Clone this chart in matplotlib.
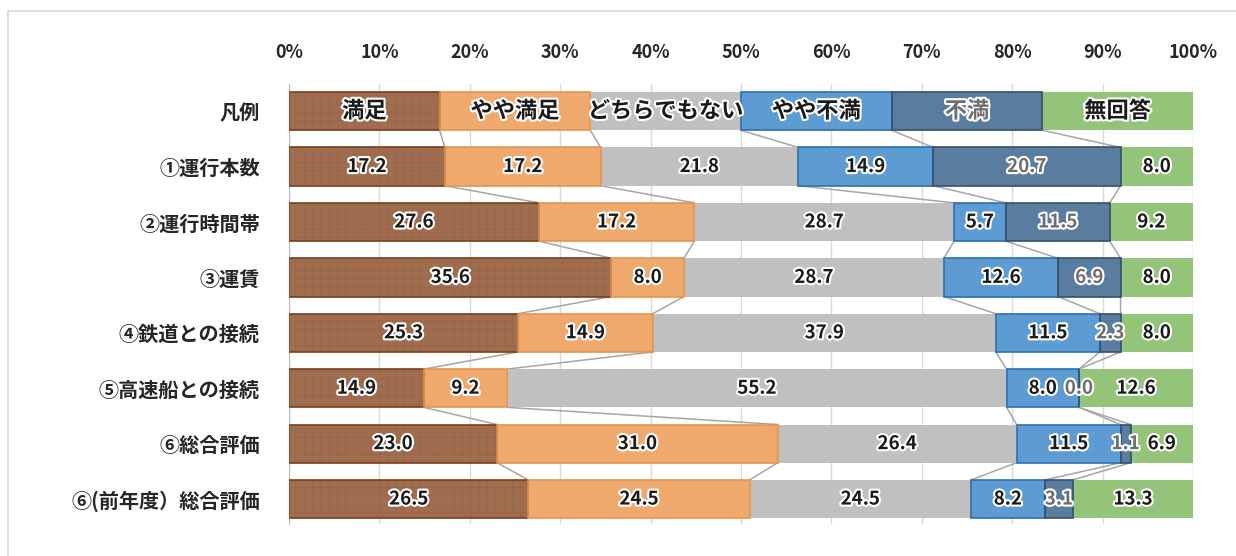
import numpy as np
import matplotlib.pyplot as plt
import matplotlib.patheffects as pe
from matplotlib.patches import Rectangle

plt.rcParams['font.family'] = ['Noto Sans CJK JP', 'DejaVu Sans']
plt.rcParams['hatch.linewidth'] = 0.35

# rows of the chart, top to bottom (first row is the legend row)
rows = ['凡例', '①運行本数', '②運行時間帯', '③運賃', '④鉄道との接続',
        '⑤高速船との接続', '⑥総合評価', '⑥(前年度）総合評価']
answers = ['満足', 'やや満足', 'どちらでもない', 'やや不満', '不満', '無回答']

legend_row = [1, 1, 1, 1, 1, 1]
r1 = [17.2, 17.2, 21.8, 14.9, 20.7, 8.0]
r2 = [27.6, 17.2, 28.7, 5.7, 11.5, 9.2]
r3 = [35.6, 8.0, 28.7, 12.6, 6.9, 8.0]
r4 = [25.3, 14.9, 37.9, 11.5, 2.3, 8.0]
r5 = [14.9, 9.2, 55.2, 8.0, 0.0, 12.6]
r6 = [23.0, 31.0, 26.4, 11.5, 1.1, 6.9]
r6_prev = [26.5, 24.5, 24.5, 8.2, 3.1, 13.3]

xticks = [0, 10, 20, 30, 40, 50, 60, 70, 80, 90, 100]

data = [legend_row, r1, r2, r3, r4, r5, r6, r6_prev]

faces = ['#a06d4e', '#f0a96c', '#c0c0c0', '#5e9dd3', '#5b7ea0', '#93c47a']
edges = ['#7a3f1c', '#e4954f', 'none', '#2f6fae', '#34506c', 'none']
hatch_cols = ['#93634a', '#f0a96c', '#c0c0c0', '#5896cc', '#53769a', '#93c47a']
hatches = ['++', None, None, '++', '++', None]
txt_cols = ['#1a1a1a', '#1a1a1a', '#1a1a1a', '#1a1a1a', '#6e6e6e', '#1a1a1a']

fig = plt.figure(figsize=(12.36, 5.56), dpi=100)
ax = fig.add_axes([289 / 1236, 32 / 556, 904 / 1236, 440 / 556])

# outer chart frame
fig.patches.append(Rectangle((8 / 1236, -0.1), 1.2, 1.1 - 11 / 556,
                             transform=fig.transFigure, fill=False,
                             edgecolor='#d9d9d9', lw=1.2, zorder=0))

h = 0.69
y = np.arange(len(rows))
halo = [pe.withStroke(linewidth=3, foreground='white')]

cums = []
for i, vals in enumerate(data):
    vals = np.array(vals, dtype=float)
    share = vals / vals.sum() * 100
    left = np.concatenate([[0], np.cumsum(share)[:-1]])
    cums.append(np.cumsum(share))
    for k in range(6):
        ax.barh(y[i], share[k], left=left[k], height=h, color=faces[k],
                edgecolor=hatch_cols[k], hatch=hatches[k], linewidth=0,
                zorder=2)
        if edges[k] != 'none':
            ax.barh(y[i], share[k], left=left[k], height=h, fill=False,
                    edgecolor=edges[k], linewidth=1.2, zorder=3)
        label = answers[k] if i == 0 else f'{vals[k]:.1f}'
        ax.text(left[k] + share[k] / 2, y[i], label, ha='center',
                va='center', fontsize=16 if i == 0 else 13.5,
                fontweight='bold', color=txt_cols[k], path_effects=halo,
                zorder=5)

# series lines between neighbouring bars
for i in range(len(rows) - 1):
    for k in range(5):
        ax.plot([cums[i][k], cums[i + 1][k]], [y[i] + h / 2, y[i + 1] - h / 2],
                color='#a6a6a6', lw=1.1, zorder=1)

ax.set_xlim(0, 100)
ax.set_ylim(len(rows) - 1 + 0.45, -0.49)
ax.set_xticks(xticks)
ax.set_xticklabels([f'{t}%' for t in xticks], fontsize=13, fontweight='bold',
                   color='#262626')
ax.xaxis.tick_top()
ax.tick_params(axis='x', length=0, pad=16)
ax.set_yticks(y)
ax.set_yticklabels(rows, fontsize=14.5, fontweight='bold', color='#262626')
ax.tick_params(axis='y', length=0, pad=21)
ax.grid(axis='x', color='#d9d9d9', lw=1)
ax.set_axisbelow(True)
for s in ['top', 'right', 'bottom']:
    ax.spines[s].set_visible(False)
ax.spines['left'].set_color('#bfbfbf')

fig.savefig('out.png', dpi=100, facecolor='white')
